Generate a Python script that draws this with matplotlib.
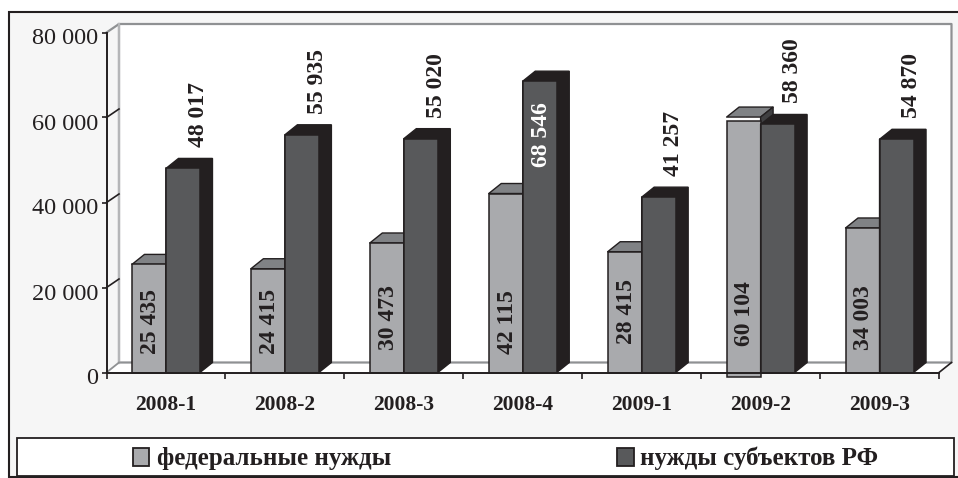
import matplotlib
matplotlib.use("Agg")
import numpy as np
import matplotlib.pyplot as plt
from matplotlib.patches import Rectangle, Polygon
from matplotlib.transforms import ScaledTranslation

# Daten
quarters = ["2008-1", "2008-2", "2008-3", "2008-4", "2009-1", "2009-2", "2009-3"]
federal = [25435, 24415, 30473, 42115, 28415, 60104, 34003]
regional = [48017, 55935, 55020, 68546, 41257, 58360, 54870]
federal_labels = ["25 435", "24 415", "30 473", "42 115", "28 415", "60 104", "34 003"]
regional_labels = ["48 017", "55 935", "55 020", "68 546", "41 257", "58 360", "54 870"]
y_ticks = [0, 20000, 40000, 60000, 80000]
y_tick_labels = ["0", "20 000", "40 000", "60 000", "80 000"]
legend_names = ["федеральные нужды", "нужды субъектов РФ"]

W, H = 958, 478
LIGHT, LIGHT_TOP, LIGHT_SIDE = "#a9aaad", "#808285", "#404042"
DARK, DARK_SIDE = "#58595b", "#231f20"
INK = "#231f20"
BG = "#f6f6f6"
WALL = "#8f9193"

plt.rcParams["font.family"] = ["Liberation Serif", "DejaVu Serif"]

fig = plt.figure(figsize=(W / 100, H / 100), dpi=100, facecolor="white")


def fx(x):
    return x / W


def fy(y):
    return 1 - y / H


# Rahmen und Legende
fig.add_artist(Rectangle((fx(9), fy(477)), fx(960 - 9), fy(12) - fy(477), transform=fig.transFigure,
                         fc=BG, ec=INK, lw=1.5, zorder=-3))
fig.add_artist(Rectangle((fx(17), fy(476)), fx(954 - 17), fy(438) - fy(476), transform=fig.transFigure,
                         fc="white", ec=INK, lw=1.3, zorder=-2))
for name, col, x0, tx in zip(legend_names, [LIGHT, DARK], [132.5, 617], [157, 640]):
    fig.add_artist(Rectangle((fx(x0), fy(466)), fx(16.5), fy(448) - fy(466), transform=fig.transFigure,
                             fc=col, ec=INK, lw=1.3, zorder=-1))
    fig.text(fx(tx), fy(458.5), name, fontsize=18, fontweight="bold", color=INK, va="center", ha="left")

ax = fig.add_axes([fx(106.5), fy(372.5), fx(939 - 106.5), fy(32.5) - fy(372.5)])
ax.set_xlim(0, 7)
ax.set_ylim(0, 80000)
ax.patch.set_alpha(0)
for s in ["top", "right"]:
    ax.spines[s].set_visible(False)
for s in ["left", "bottom"]:
    ax.spines[s].set_color(INK)
    ax.spines[s].set_linewidth(1.4)

px_x = 7 / (939 - 106.5)
px_y = 80000 / 340
dx = 12.5 * px_x
dy = 10 * px_y
wall_dy = 8.5 * px_y
bw = 34 * px_x

# Rueckwand und Boden
ax.add_patch(Polygon([(dx, wall_dy), (dx, 80000 + wall_dy), (7 + dx, 80000 + wall_dy), (7 + dx, dy)],
                     closed=True, fc="white", ec="none", clip_on=False, zorder=0))
ax.add_patch(Polygon([(0, 0), (dx, dy), (7 + dx, dy), (7, 0)], closed=True, fc="white", ec="none",
                     clip_on=False, zorder=0))
ax.plot([0, dx, dx, 7 + dx, 7 + dx, dx], [80000, 80000 + wall_dy, dy, dy, 80000 + wall_dy, 80000 + wall_dy],
        color=WALL, lw=1.6, clip_on=False, zorder=0.5)
ax.plot([dx, dx], [dy, 80000 + wall_dy], color="#b5b6b8", lw=1.6, clip_on=False, zorder=0.6)
ax.plot([0, dx], [0, dy], color=WALL, lw=1.3, clip_on=False, zorder=0.6)
ax.plot([7, 7 + dx], [0, dy], color=INK, lw=1.2, clip_on=False, zorder=0.6)
for v in y_ticks[1:-1]:
    ax.plot([0, dx], [v, v + wall_dy], color=INK, lw=1.2, clip_on=False, zorder=0.6)

# Saeulen: das Segment 2009-2 ist im Original nach unten versetzt
federal_shift = [0, 0, 0, 0, 0, 1000, 0]
centers = np.arange(7) + 0.5
z = 2
for i in range(7):
    c = centers[i]
    xl = c - bw
    v = federal[i]
    ax.add_patch(Polygon([(xl, v), (xl + dx, v + dy), (c + dx, v + dy), (c, v)], closed=True,
                         fc=LIGHT_TOP, ec=INK, lw=1, zorder=z, clip_on=False, joinstyle="round"))
    ax.add_patch(Polygon([(c, v), (c + dx, v + dy), (c + dx, 0), (c, 0)], closed=True,
                         fc=LIGHT_SIDE, ec=INK, lw=1, zorder=z, clip_on=False))
    ax.bar(c - bw / 2, v, bw, bottom=-federal_shift[i], color=LIGHT, edgecolor=INK, lw=1.1, zorder=z + 0.1,
           clip_on=False)
    v = regional[i]
    ax.add_patch(Polygon([(c, v), (c + dx, v + dy), (c + bw + dx, v + dy), (c + bw + dx, dy),
                          (c + bw, 0), (c, 0)], closed=True,
                         fc=DARK_SIDE, ec=DARK_SIDE, lw=1, zorder=z + 0.2, clip_on=False))
    ax.bar(c + bw / 2, v, bw, color=DARK, edgecolor=INK, lw=1.1, zorder=z + 0.3, clip_on=False)

# Beschriftung der Saeulen (Abstaende in Pixeln)
federal_lift = [19, 19, 22, 19, 29, 26, 23]
for i in range(7):
    ax.annotate(federal_labels[i], (centers[i] - bw / 2, 0), xytext=(1.0, federal_lift[i] * 0.72),
                textcoords="offset points", rotation=90, ha="center", va="bottom", fontsize=17,
                fontweight="bold", color=INK, zorder=20, annotation_clip=False)
    if regional[i] == max(regional):
        ax.annotate(regional_labels[i], (centers[i] + bw / 2, regional[i]), xytext=(1.5, -86 * 0.72),
                    textcoords="offset points", rotation=90, ha="center", va="bottom", fontsize=17,
                    fontweight="bold", color="white", zorder=20, annotation_clip=False)
    else:
        ax.annotate(regional_labels[i], (centers[i] + bw / 2 + dx, regional[i] + dy), xytext=(2.0, 11 * 0.72),
                    textcoords="offset points", rotation=90, ha="center", va="bottom", fontsize=17,
                    fontweight="bold", color=INK, zorder=20, annotation_clip=False)

# Achsen
ax.set_yticks(y_ticks)
ax.set_yticklabels(y_tick_labels, fontsize=17.5, color=INK)
ax.tick_params(axis="y", length=3.5, width=1.2, color=INK, pad=2.5)
shift = ScaledTranslation(0, -4 / 100, fig.dpi_scale_trans)
for lab in ax.get_yticklabels():
    lab.set_transform(lab.get_transform() + shift)
ax.set_xticks(np.arange(8))
ax.set_xticklabels([])
ax.set_xticks(centers, quarters, minor=True, fontsize=15.5, fontweight="bold", color=INK)
ax.tick_params(axis="x", which="major", length=4, width=1.2, color=INK)
ax.tick_params(axis="x", which="minor", length=0, pad=16)

fig.savefig("out.png", dpi=100)
